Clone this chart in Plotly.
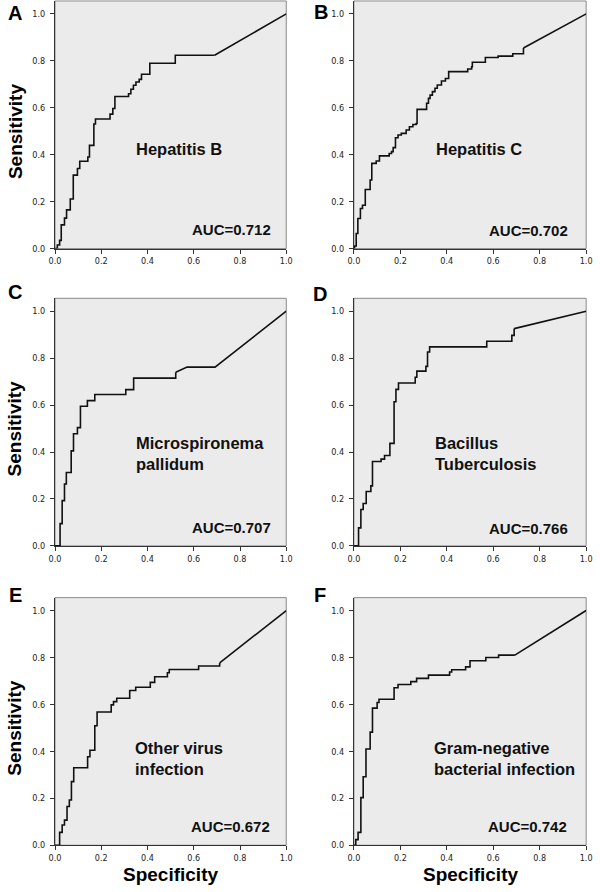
import plotly.graph_objects as go

# ROC step points (1 - specificity, sensitivity)
a_fpr = [0, 0.01, 0.02, 0.027, 0.041, 0.05, 0.066, 0.079, 0.097, 0.107, 0.142, 0.149, 0.168,
         0.175, 0.238, 0.25, 0.259, 0.318, 0.328, 0.339, 0.35, 0.364, 0.374, 0.41, 0.52, 0.69]
a_tpr = [0, 0.015, 0.035, 0.101, 0.13, 0.165, 0.211, 0.313, 0.341, 0.372, 0.39, 0.44, 0.531,
         0.552, 0.573, 0.597, 0.648, 0.66, 0.679, 0.696, 0.71, 0.721, 0.743, 0.79, 0.824, 0.824]
a_tail_fpr = [0.69, 1.0]
a_tail_tpr = [0.824, 1.0]

b_fpr = [0, 0.003, 0.01, 0.017, 0.028, 0.037, 0.049, 0.07, 0.077, 0.096, 0.11, 0.152, 0.162,
         0.169, 0.179, 0.19, 0.204, 0.225, 0.239, 0.254, 0.268, 0.272, 0.313, 0.321, 0.328,
         0.338, 0.349, 0.359, 0.377, 0.394, 0.408, 0.49, 0.507, 0.51, 0.566, 0.621, 0.684, 0.73]
b_tpr = [0, 0.011, 0.064, 0.128, 0.171, 0.185, 0.252, 0.292, 0.363, 0.373, 0.395, 0.405, 0.413,
         0.43, 0.472, 0.484, 0.491, 0.505, 0.519, 0.529, 0.533, 0.593, 0.619, 0.64, 0.654,
         0.669, 0.683, 0.697, 0.714, 0.725, 0.754, 0.765, 0.775, 0.794, 0.814, 0.82, 0.83, 0.855]
b_tail_fpr = [0.73, 1.0]
b_tail_tpr = [0.855, 1.0]

c_fpr = [0, 0.022, 0.031, 0.041, 0.049, 0.07, 0.08, 0.097, 0.11, 0.14, 0.172, 0.306, 0.34, 0.522]
c_tpr = [0, 0.095, 0.193, 0.264, 0.313, 0.405, 0.478, 0.504, 0.595, 0.619, 0.645, 0.666, 0.715, 0.74]
c_tail_fpr = [0.522, 0.571, 0.692, 1.0]
c_tail_tpr = [0.74, 0.762, 0.762, 1.0]

d_fpr = [0, 0.02, 0.03, 0.04, 0.053, 0.073, 0.08, 0.117, 0.132, 0.155, 0.173, 0.181, 0.192,
         0.264, 0.271, 0.31, 0.317, 0.326, 0.572, 0.68, 0.69]
d_tpr = [0, 0.077, 0.155, 0.181, 0.232, 0.256, 0.36, 0.37, 0.385, 0.437, 0.614, 0.667, 0.694,
         0.719, 0.745, 0.765, 0.826, 0.848, 0.872, 0.897, 0.926]
d_tail_fpr = [0.69, 1.0]
d_tail_tpr = [0.926, 1.0]

e_fpr = [0, 0.02, 0.031, 0.041, 0.052, 0.062, 0.071, 0.081, 0.141, 0.151, 0.172, 0.182, 0.243,
         0.253, 0.267, 0.323, 0.349, 0.412, 0.431, 0.486, 0.494, 0.621, 0.712]
e_tpr = [0, 0.055, 0.086, 0.107, 0.165, 0.193, 0.271, 0.33, 0.377, 0.405, 0.509, 0.568, 0.598,
         0.612, 0.626, 0.659, 0.673, 0.694, 0.718, 0.735, 0.749, 0.764, 0.777]
e_tail_fpr = [0.712, 1.0]
e_tail_tpr = [0.777, 1.0]

f_fpr = [0, 0.008, 0.018, 0.03, 0.04, 0.052, 0.07, 0.08, 0.1, 0.108, 0.173, 0.19, 0.245, 0.27,
         0.321, 0.412, 0.421, 0.481, 0.5, 0.568, 0.623, 0.693]
f_tpr = [0, 0.024, 0.055, 0.203, 0.292, 0.41, 0.482, 0.584, 0.608, 0.622, 0.671, 0.685, 0.697,
         0.711, 0.725, 0.738, 0.748, 0.76, 0.786, 0.80, 0.81, 0.81]
f_tail_fpr = [0.693, 1.0]
f_tail_tpr = [0.81, 1.0]

letters = ["A", "B", "C", "D", "E", "F"]
names = ["Hepatitis B", "Hepatitis C", "Microspironema<br>pallidum", "Bacillus<br>Tuberculosis",
         "Other virus<br>infection", "Gram-negative<br>bacterial infection"]
aucs = [0.712, 0.702, 0.707, 0.766, 0.672, 0.742]
tick_vals = [0, 0.2, 0.4, 0.6, 0.8, 1.0]
tick_text = ["0.0", "0.2", "0.4", "0.6", "0.8", "1.0"]

steps = [(a_fpr, a_tpr), (b_fpr, b_tpr), (c_fpr, c_tpr), (d_fpr, d_tpr), (e_fpr, e_tpr), (f_fpr, f_tpr)]
tails = [(a_tail_fpr, a_tail_tpr), (b_tail_fpr, b_tail_tpr), (c_tail_fpr, c_tail_tpr),
         (d_tail_fpr, d_tail_tpr), (e_tail_fpr, e_tail_tpr), (f_tail_fpr, f_tail_tpr)]

W, H = 600, 892
col_px = [(50, 286), (355, 592)]
row_px = [(1, 250), (300, 549), (601, 850)]
name_pos = [(0.342, 0.424), (0.344, 0.424), (0.342, 0.392), (0.342, 0.395), (0.339, 0.368), (0.338, 0.368)]
auc_pos = [(0.944, 0.081), (0.93, 0.078), (0.944, 0.08), (0.929, 0.076), (0.94, 0.08), (0.925, 0.08)]
letter_px = [(9, 13), (321, 12), (9, 294), (320, 296), (10, 598), (320, 598)]

ARIAL = "Arial, Liberation Sans, sans-serif"
TICKFONT = dict(family="Liberation Sans Narrow, Arial Narrow, DejaVu Sans Condensed, sans-serif",
                size=9, color="#222")

fig = go.Figure()
layout = dict(width=W, height=H, margin=dict(l=0, r=0, t=0, b=0),
              paper_bgcolor="white", plot_bgcolor="#ebebeb", showlegend=False)
annotations = []
shapes = []

for i in range(6):
    n = i + 1
    xa = "x" if n == 1 else "x%d" % n
    ya = "y" if n == 1 else "y%d" % n
    col, row = i % 2, i // 2
    x0, x1 = col_px[col]
    y0, y1 = row_px[row]

    fig.add_trace(go.Scatter(x=steps[i][0], y=steps[i][1], mode="lines", xaxis=xa, yaxis=ya,
                             line=dict(color="#111", width=1.6, shape="hv"), hoverinfo="skip"))
    fig.add_trace(go.Scatter(x=tails[i][0], y=tails[i][1], mode="lines", xaxis=xa, yaxis=ya,
                             line=dict(color="#111", width=1.6), hoverinfo="skip"))

    axis_common = dict(tickvals=tick_vals, ticktext=tick_text, ticks="outside", ticklen=4,
                       tickcolor="#333", tickwidth=1, showline=True, linecolor="#333", linewidth=1,
                       showgrid=False, zeroline=False, tickfont=TICKFONT, fixedrange=True)
    layout["xaxis" if n == 1 else "xaxis%d" % n] = dict(
        domain=[x0 / W, x1 / W], range=[0, 1], anchor=ya, **axis_common)
    layout["yaxis" if n == 1 else "yaxis%d" % n] = dict(
        domain=[1 - y1 / H, 1 - y0 / H], range=[0, 1.055], anchor=xa,
        ticklabelstandoff=3, **axis_common)

    shapes.append(dict(type="rect", xref=xa + " domain", yref=ya + " domain", x0=0, x1=1, y0=0, y1=1,
                       line=dict(color="#8a8a8a", width=1), layer="below"))

    annotations.append(dict(text=names[i], xref=xa, yref=ya, x=name_pos[i][0], y=name_pos[i][1],
                            xanchor="left", yanchor="middle", align="left", showarrow=False,
                            font=dict(family=ARIAL, size=16.5, color="#111", weight="bold")))
    annotations.append(dict(text="AUC=%.3f" % aucs[i], xref=xa, yref=ya, x=auc_pos[i][0], y=auc_pos[i][1],
                            xanchor="right", yanchor="middle", showarrow=False,
                            font=dict(family=ARIAL, size=15, color="#111", weight="bold")))
    lx, ly = letter_px[i]
    annotations.append(dict(text=letters[i], xref="paper", yref="paper", x=lx / W, y=1 - ly / H,
                            xanchor="center", yanchor="middle", showarrow=False,
                            font=dict(family=ARIAL, size=20, color="#000", weight="bold")))
    if col == 0:
        annotations.append(dict(text="Sensitivity", xref="paper", yref=ya, x=9 / W, y=0.5,
                                xanchor="center", yanchor="middle", textangle=-90, showarrow=False,
                                font=dict(family=ARIAL, size=19, color="#000", weight="bold")))
    if row == 2:
        annotations.append(dict(text="Specificity", xref=xa, yref="paper", x=0.5, y=1 - 879 / H,
                                xanchor="center", yanchor="middle", showarrow=False,
                                font=dict(family=ARIAL, size=19, color="#000", weight="bold")))

layout["annotations"] = annotations
layout["shapes"] = shapes
fig.update_layout(**layout)

# page has a default 8px body margin; drop it so the figure fills the window
fig.write_html("out.html", config={"displayModeBar": False},
               post_script="document.body.style.margin='0';")
